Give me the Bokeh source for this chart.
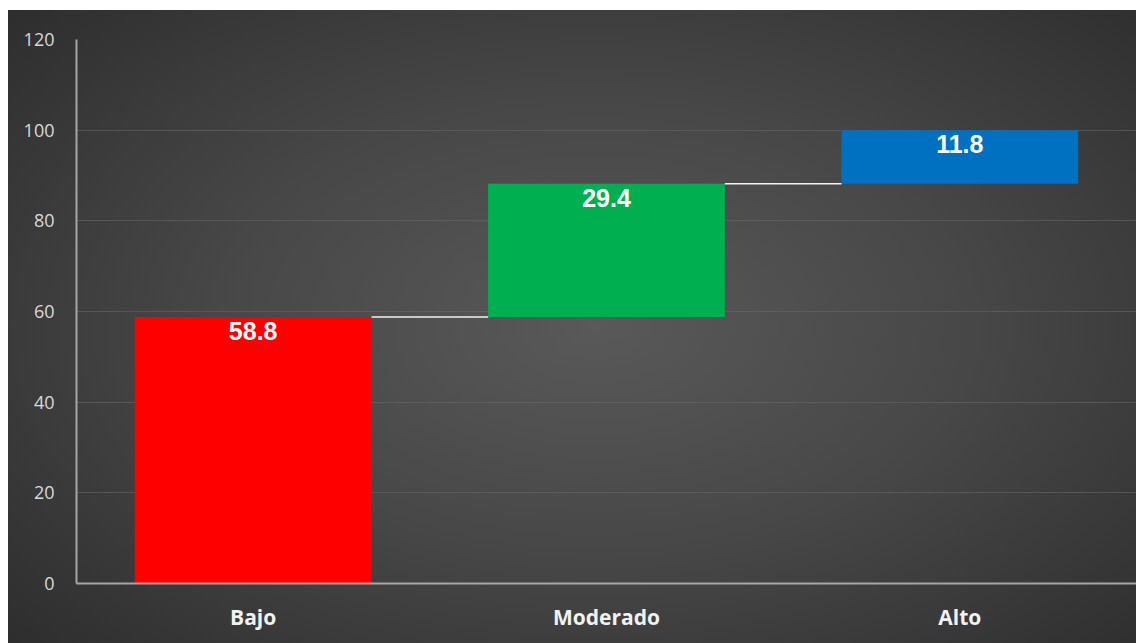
from bokeh.plotting import figure
from bokeh.models import ColumnDataSource, FactorRange, Range1d, FixedTicker
from bokeh.transform import dodge
from bokeh.embed import file_html
from bokeh.resources import INLINE

categories = ["Bajo", "Moderado", "Alto"]
values = [58.8, 29.4, 11.8]
colors = ["#ff0000", "#00b050", "#0070c0"]
y_ticks = [0, 20, 40, 60, 80, 100, 120]

bottoms = []
tops = []
run = 0.0
for v in values:
    bottoms.append(run)
    run = round(run + v, 1)
    tops.append(run)

labels = [f"{v:.1f}" for v in values]
src = ColumnDataSource(dict(cat=categories, bottom=bottoms, top=tops, color=colors, label=labels))
conn = ColumnDataSource(dict(c0=categories[:-1], c1=categories[1:], level=tops[:-1]))

BW = 0.67

p = figure(x_range=FactorRange(*categories, range_padding=0), y_range=Range1d(0, 120),
           width=1128, height=633, output_backend="svg", toolbar_location=None,
           min_border_left=68, min_border_right=0, min_border_top=29, min_border_bottom=60)
p.margin = (10, 0, 0, 8)
p.styles = {"background": "radial-gradient(ellipse 75% 80% at 52% 50%, #595959 0%, #474747 45%, #2a2a2a 100%)"}
p.background_fill_alpha = 0
p.border_fill_alpha = 0
p.outline_line_color = None

p.vbar(x="cat", bottom="bottom", top="top", width=BW, fill_color="color", line_color=None, source=src)

p.segment(x0=dodge("c0", BW / 2, range=p.x_range), x1=dodge("c1", -BW / 2, range=p.x_range),
          y0="level", y1="level", line_color="#f2f2f2", line_width=1.5, source=conn)

p.text(x="cat", y="top", text="label", source=src, text_align="center", text_baseline="top",
       y_offset=5, text_color="white", text_font_size="25px", text_font_style="bold",
       text_font={"value": "Liberation Sans"})

p.yaxis.ticker = FixedTicker(ticks=y_ticks)
p.ygrid.ticker = FixedTicker(ticks=y_ticks[1:])
p.xgrid.grid_line_color = None
p.ygrid.grid_line_color = "#6a6a6a"
p.ygrid.grid_line_alpha = 0.55
p.ygrid.grid_line_width = 1

for ax in (p.xaxis, p.yaxis):
    ax.axis_line_color = "#a6a6a6"
    ax.axis_line_width = 2
    ax.major_tick_line_color = None
    ax.minor_tick_line_color = None

p.yaxis.major_label_text_color = "#d9d9d9"
p.yaxis.major_label_text_font = "Open Sans"
p.yaxis.major_label_text_font_size = "18px"
p.yaxis.major_label_standoff = 16

p.xaxis.major_label_text_color = "#f2f2f2"
p.xaxis.major_label_text_font = "Open Sans"
p.xaxis.major_label_text_font_style = "bold"
p.xaxis.major_label_text_font_size = "21px"
p.xaxis.major_label_standoff = 13

open("out.html", "w").write(file_html(p, INLINE))
